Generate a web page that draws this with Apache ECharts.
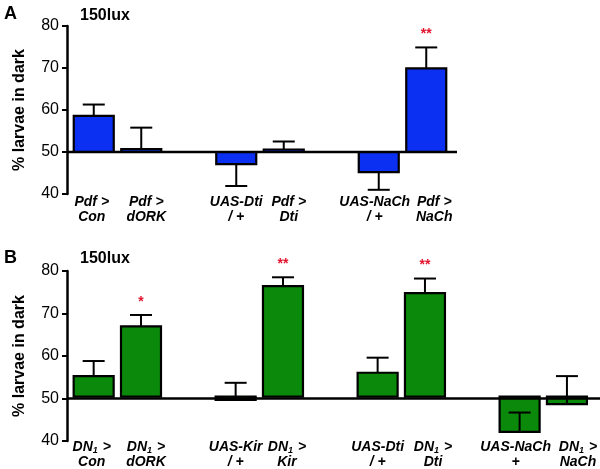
<!DOCTYPE html>
<html><head><meta charset="utf-8">
<script src="https://cdn.jsdelivr.net/npm/echarts@6/dist/echarts.min.js"></script>
<style>html,body{margin:0;padding:0;background:#fff}#c{width:600px;height:469px}</style>
</head><body><div id="c"></div>
<script>
// ---- data ----
const catsA = ['Pdf >\nCon', 'Pdf >\ndORK', '', 'UAS-Dti\n/ +', 'Pdf >\nDti', '', 'UAS-NaCh\n/ +', 'Pdf >\nNaCh'];
const valsA = [58.6, 50.7, null, 47.1, 50.6, null, 45.2, 69.9];
const errA  = [61.3, 55.8, null, 41.9, 52.5, null, 41.0, 74.9];
const sigA  = ['', '', '', '', '', '', '', '**'];

const catsB = ['DN1 >\nCon', 'DN1 >\ndORK', '', 'UAS-Kir\n/ +', 'DN1 >\nKir', '', 'UAS-Dti\n/ +', 'DN1 >\nDti', '', 'UAS-NaCh\n+', 'DN1 >\nNaCh'];
const valsB = [54.9, 66.8, null, 49.2, 76.4, null, 55.7, 74.7, null, 41.6, 48.2];
const errB  = [58.5, 69.5, null, 53.3, 78.5, null, 59.3, 78.2, null, 46.2, 54.9];
const sigB  = ['', '*', '', '', '**', '', '', '**', '', '', ''];

const yTicks = [40, 50, 60, 70, 80];
const baseValue = 50;
const panelTitle = '150lux';
const yName = '% larvae in dark';

// ---- styling ----
const FONT = '"Liberation Sans", Arial, Helvetica, sans-serif';
const BLUE = '#0b30f2';
const GREEN = '#0a890a';
const RED = '#e3152e';
// horizontal nudges (px) of the category labels, as typeset in the original figure
const labelShiftA = [-2, 5, 0, 0, 5, 0, -4, 8];
const labelShiftB = [-2, 5, 0, 0, 4, 0, 0, 8, 0, -4, 11];

const labStyle = { fontFamily: FONT, fontWeight: 'bold', fontStyle: 'italic', fontSize: 14, color: '#000', lineHeight: 15 };
function makeRich() {
  const r = {
    l: Object.assign({}, labStyle),
    s: Object.assign({}, labStyle, { fontSize: 9, padding: [7, 1, 0, 0] })
  };
  for (let w = 1; w <= 30; w++) r['p' + w] = { width: w, fontSize: 14, lineHeight: 15 };
  return r;
}
const richLab = makeRich();

function labelFmtFor(cats, shifts) {
  return function (v, idx) {
    const i = cats.indexOf(v) >= 0 ? cats.indexOf(v) : idx;
    const d = shifts[i] || 0;
    const sp = d !== 0 ? '{p' + Math.abs(2 * d) + '|\u00a0}' : '';
    return v.split('\n').map(line => {
      let s;
      if (line.indexOf('DN1') === 0) s = '{l|DN}{s|1}{l|' + line.slice(3) + '}';
      else s = '{l|' + line + '}';
      return d > 0 ? sp + s : s + sp;
    }).join('\n');
  };
}

function makeData(vals, errs) {
  const out = [];
  vals.forEach((v, i) => { if (v !== null) out.push([i, v, errs[i]]); });
  return out;
}

function barRenderer(color, sigs) {
  return function (params, api) {
    const i = api.value(0), v = api.value(1), e = api.value(2);
    const b = api.coord([i, baseValue]);
    const t = api.coord([i, v]);
    const et = api.coord([i, e]);
    const w = 40, cap = 11;
    const children = [
      { type: 'rect', shape: { x: b[0] - w / 2, y: Math.min(b[1], t[1]), width: w, height: Math.abs(b[1] - t[1]) },
        style: { fill: color, stroke: '#000', lineWidth: 2.2 } },
      { type: 'line', shape: { x1: t[0], y1: t[1], x2: et[0], y2: et[1] }, style: { stroke: '#000', lineWidth: 2 } },
      { type: 'line', shape: { x1: et[0] - cap, y1: et[1], x2: et[0] + cap, y2: et[1] }, style: { stroke: '#000', lineWidth: 2 } }
    ];
    const s = sigs[i];
    if (s) {
      children.push({ type: 'text', x: et[0], y: et[1] - 13,
        style: { text: s, fill: RED, font: 'bold 14px ' + FONT, textAlign: 'center', textVerticalAlign: 'middle' } });
    }
    return { type: 'group', children };
  };
}

const gridA = { top: 26, height: 168 };
const gridB = { top: 271, height: 170 };
const slot = 47.5;

const yAxisBase = {
  type: 'value', min: yTicks[0], max: yTicks[yTicks.length - 1], interval: yTicks[1] - yTicks[0],
  axisLine: { show: true, lineStyle: { color: '#000', width: 2.5 } },
  axisTick: { show: true, inside: false, length: 5, lineStyle: { color: '#000', width: 2 } },
  axisLabel: { fontFamily: FONT, fontSize: 16, color: '#000', margin: 8 },
  splitLine: { show: false },
  name: yName, nameLocation: 'middle', nameGap: 39,
  nameTextStyle: { fontFamily: FONT, fontSize: 16, fontWeight: 'bold', color: '#000' }
};
const yAxisHidden = { type: 'value', min: yTicks[0], max: yTicks[yTicks.length - 1], interval: yTicks[1] - yTicks[0], show: false };

const titleStyle = { fontFamily: FONT, fontSize: 16, fontWeight: 'bold', color: '#000' };
const letterStyle = { fontFamily: FONT, fontSize: 18, fontWeight: 'bold', color: '#000' };

const option = {
  animation: false,
  backgroundColor: '#fff',
  title: [
    { text: 'A', left: -1, top: 0, textStyle: letterStyle },
    { text: panelTitle, left: 75, top: 3, textStyle: titleStyle },
    { text: 'B', left: -1, top: 244, textStyle: letterStyle },
    { text: panelTitle, left: 75, top: 246, textStyle: titleStyle }
  ],
  grid: [
    { left: 67, width: 390, top: gridA.top, height: gridA.height },
    { left: 70, width: slot * catsA.length, top: gridA.top, height: gridA.height },
    { left: 67, width: 533, top: gridB.top, height: gridB.height },
    { left: 70, width: slot * catsB.length, top: gridB.top, height: gridB.height }
  ],
  xAxis: [
    { gridIndex: 0, type: 'value', min: 0, max: 1, show: false },
    { gridIndex: 1, type: 'category', data: catsA, axisLine: { show: false }, axisTick: { show: false },
      axisLabel: { interval: 0, margin: 1, formatter: labelFmtFor(catsA, labelShiftA), rich: richLab } },
    { gridIndex: 2, type: 'value', min: 0, max: 1, show: false },
    { gridIndex: 3, type: 'category', data: catsB, axisLine: { show: false }, axisTick: { show: false },
      axisLabel: { interval: 0, margin: 1, formatter: labelFmtFor(catsB, labelShiftB), rich: richLab } }
  ],
  yAxis: [
    Object.assign({ gridIndex: 0 }, yAxisBase),
    Object.assign({ gridIndex: 1 }, yAxisHidden),
    Object.assign({ gridIndex: 2 }, yAxisBase),
    Object.assign({ gridIndex: 3 }, yAxisHidden)
  ],
  series: [
    { type: 'custom', xAxisIndex: 1, yAxisIndex: 1, data: makeData(valsA, errA), renderItem: barRenderer(BLUE, sigA), z: 2 },
    { type: 'line', xAxisIndex: 0, yAxisIndex: 0, data: [[0, baseValue], [1, baseValue]], showSymbol: false,
      lineStyle: { color: '#000', width: 2.5 }, z: 3 },
    { type: 'custom', xAxisIndex: 3, yAxisIndex: 3, data: makeData(valsB, errB), renderItem: barRenderer(GREEN, sigB), z: 2 },
    { type: 'line', xAxisIndex: 2, yAxisIndex: 2, data: [[0, baseValue], [1, baseValue]], showSymbol: false,
      lineStyle: { color: '#000', width: 2.5 }, z: 3 }
  ]
};
const chart = echarts.init(document.getElementById('c'), null, { renderer: 'canvas' });
chart.setOption(option);
</script></body></html>
